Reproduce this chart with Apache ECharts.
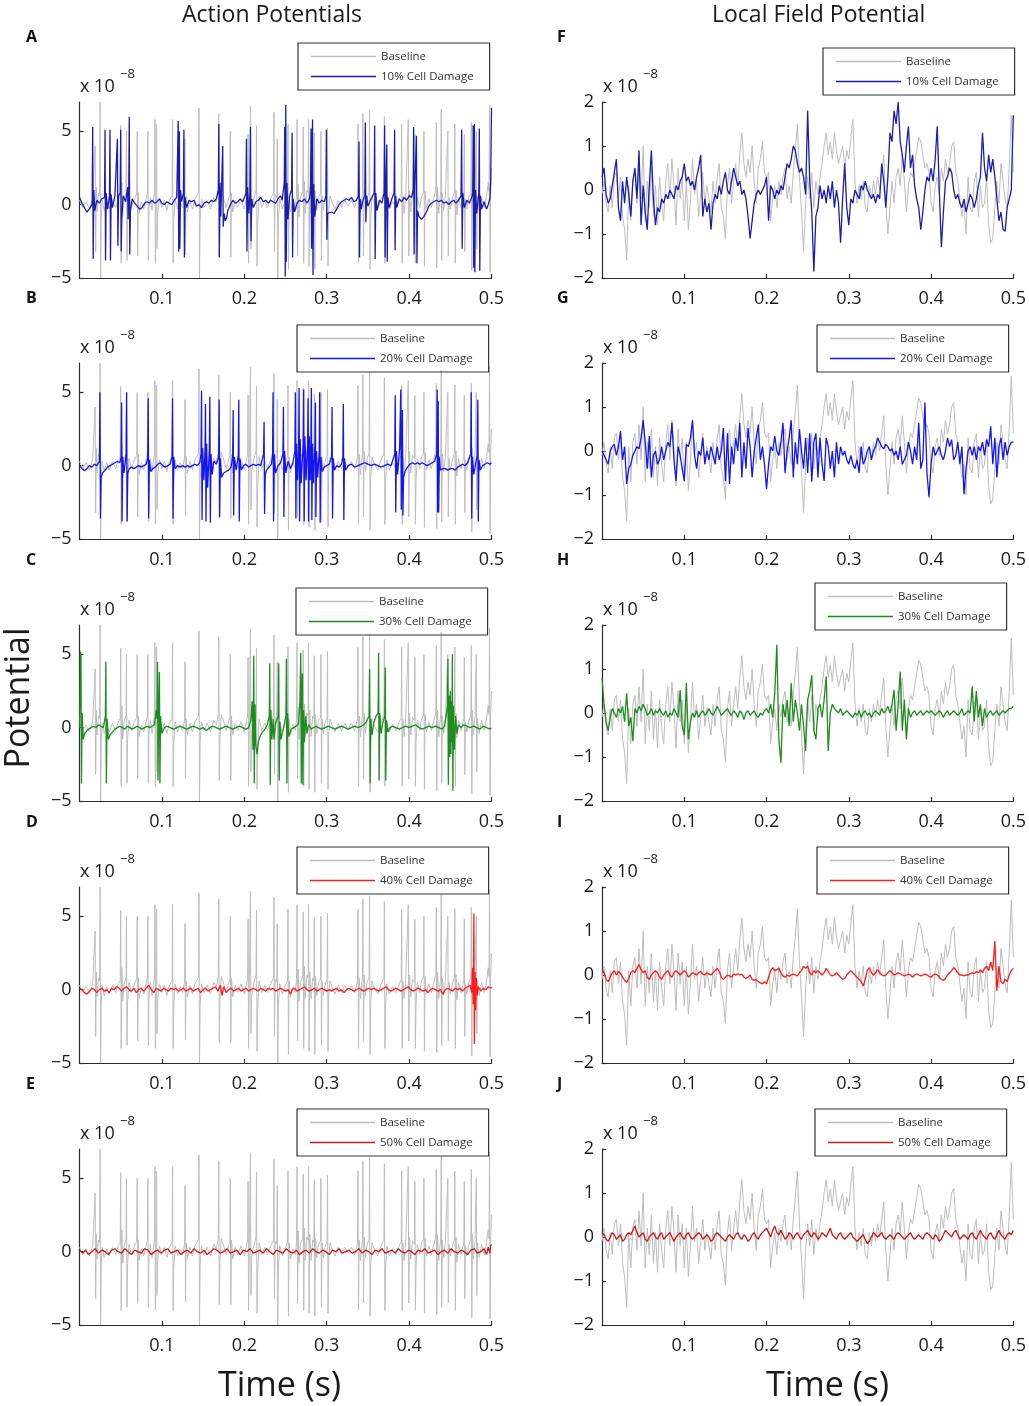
<!DOCTYPE html>
<html>
<head>
<meta charset="utf-8">
<script src="https://cdn.jsdelivr.net/npm/echarts@6/dist/echarts.min.js"></script>
<style>
  html, body { margin: 0; padding: 0; background: #fff; }
  #main { width: 1029px; height: 1406px; }
</style>
</head>
<body>
<div id="main"></div>
<script>
// ---- data (x 10^-8) ----
var timeTicks = [0.1, 0.2, 0.3, 0.4, 0.5];
var apTicks = [-5, 0, 5];
var lfpTicks = [-2, -1, 0, 1, 2];
var damageNames = ['10% Cell Damage', '20% Cell Damage', '30% Cell Damage', '40% Cell Damage', '50% Cell Damage'];

// action potentials: [time (ms), value]
var apBaseline = [
  [0,0.3],[4,-0.2],[8,0.2],[12,-0.3],[16,0.4],[18.4,0.5],[19,4.0],[19.6,-3.2],[20.4,1.2],[21.2,-0.5],[23,0.8],[24.4,0.6],[25,7.0],[25.6,-5.0],[26.4,-1.0],[27.4,0.3],[30,-0.4],[33,0.2],[36,-0.3],[40,0.3],[44,-0.2],[47,0.4],[49.4,0.6],[50,5.4],[50.6,-4.0],[51.4,1.5],[52.4,-0.8],[54,0.4],[56.4,0.8],[57,5.0],[57.6,-3.8],[58.4,-0.8],[60,0.5],[63,-0.2],[66,0.3],[69.4,0.7],[70,5.0],[70.6,-3.5],[71.4,0.8],[72.4,-0.6],[75,0.2],[78,-0.3],[82.4,0.8],[83,5.0],[83.6,-3.8],[84.4,-0.3],[86,0.5],[88,-0.4],[90.9,0.8],[91.5,5.8],[92.1,-4.0],[92.9,1.2],[93.5,5.5],[94.1,-3.0],[95,-0.6],[97,0.4],
  [100,-0.2],[103,0.3],[106,-0.4],[109,0.3],[112.4,0.6],[113,5.8],[113.6,-4.0],[114.4,-1.2],[116,0.4],[119,-0.3],[122,0.2],[125,-0.2],[127.4,0.5],[128,4.5],[128.6,-3.4],[129.4,0.6],[131,-0.5],[134,0.3],[137,-0.3],[140,0.4],[144.4,0.8],[145,6.6],[145.6,-5.0],[146.4,-1.0],[148,0.4],[151,-0.2],[155,0.3],[159,-0.3],[163,0.5],[166,0.2],[168.4,0.9],[169,6.2],[169.6,-3.6],[170.4,-0.8],[172,0.9],[175,0.4],[178,-0.2],[182.4,0.7],[183,5.0],[183.6,-3.6],[184.4,0.8],[186,-0.5],[189,0.3],[192,-0.2],[196,0.4],
  [200,-0.3],[204,0.8],[204.6,4.8],[205.2,-4.0],[206.2,0.9],[207.5,6.7],[208.1,-3.0],[209,-0.4],[211,0.3],[214.2,1.0],[214.8,5.4],[215.4,-4.2],[216.2,-1.5],[218,0.6],[221,-0.2],[225,0.3],[228,-0.2],[232,0.4],[235.4,0.8],[236,6.3],[236.6,-3.2],[237.4,0.7],[239.4,0.5],[240,4.5],[240.6,-5.0],[241.4,-1.0],[243,0.4],[246,-0.3],[250,0.3],[252.4,0.6],[253,5.5],[253.6,-4.4],[254.4,0.6],[256,-0.5],[259,0.2],[262,-0.2],[263.4,0.7],[264,5.8],[264.6,-3.5],[265.4,1.4],[266.4,-0.8],[268,0.5],[270.9,0.9],[271.5,5.3],[272.1,-4.0],[272.9,1.6],[274,-0.6],[276,1.0],[277.4,0.8],[278,5.8],[278.6,-4.2],[279.4,1.2],[281,-0.6],[283,0.8],[284.4,0.6],[285,4.9],[285.6,-4.4],[286.4,0.9],[288,-0.4],[290,0.5],[292.4,0.7],[293,5.0],[293.6,-3.8],[294.4,0.6],[296,-0.4],[298,0.3],
  [300.4,0.7],[301,5.2],[301.6,-4.2],[302.4,-0.5],[304,0.6],[307,0.1],[310,-0.3],[314,0.3],[318,-0.2],[322,0.3],[326,-0.1],[330,0.3],[334,-0.2],[337.4,0.6],[338,5.5],[338.6,-4.0],[339.4,0.8],[341,-0.6],[343.4,0.9],[344,6.2],[344.6,-3.5],[345.4,1.0],[347,-0.4],[349,0.5],[351.4,0.8],[352,6.4],[352.6,-4.4],[353.4,-1.0],[355,0.6],[358,0.1],[362,-0.3],[366,0.4],[369.4,0.8],[370,6.0],[370.6,-4.0],[371.4,-1.2],[373,0.4],[376,-0.3],[380,0.2],[384,-0.2],[388,0.4],[390.4,0.7],[391,5.5],[391.6,-4.0],[392.4,0.6],[394,-0.6],[396,0.8],[398.4,0.9],[399,5.8],[399.6,-3.5],
  [400.4,1.0],[402,-0.5],[404,0.7],[406.4,0.5],[407,4.8],[407.6,-4.0],[408.4,-1.0],[410,0.5],[413,-0.2],[415,0.6],[417.4,0.8],[418,5.0],[418.6,-4.2],[419.4,0.9],[421,-0.3],[424,0.4],[427,-0.2],[430,0.5],[432.4,1.0],[433,5.6],[433.6,-4.3],[434.4,1.2],[436,-0.6],[438.4,0.9],[439,6.5],[439.6,-3.8],[440.4,0.8],[442,-0.4],[444,0.6],[446.4,0.7],[447,5.0],[447.6,-3.5],[448.4,0.5],[450,-0.3],[453,0.5],[454.9,0.8],[455.5,5.5],[456.1,-4.0],[456.9,1.0],[458,-0.7],[460,0.5],[463,-0.2],[466.4,0.6],[467,4.8],[467.6,-3.2],[468.4,0.4],[470,-0.3],[473,0.6],[474.9,0.8],[475.5,5.6],[476.1,-4.5],[476.9,1.2],[478,-0.5],[480,0.8],[480.9,0.9],[481.5,5.0],[482.1,-3.0],[483,0.6],[485,-0.4],[488,0.5],[491,-0.2],[494,0.6],[496,1.5],[497,0.9],[497.6,6.8],[498.2,-4.6],[499,1.0],[500,2.5]
];

var apDmg10 = [
  [0,0.5],[3,0.1],[6,-0.2],[9,-0.5],[12,-0.3],[15,0.0],[15.4,0.3],[16,5.3],[16.6,-3.7],[17.4,1.0],[18.5,-0.4],[21,0.3],[24,0.1],[27,0.4],[30.4,0.5],[31,5.1],[31.6,-3.8],[32.4,0.8],[34,-0.3],[36.4,0.6],[37,5.1],[37.6,-3.8],[38.4,0.7],[40,-0.2],[43,0.6],[45.4,0.5],[46,4.5],[46.6,-2.8],[47.4,0.6],[49.4,0.8],[50,5.1],[50.6,-3.2],[51.4,-0.8],[53,0.6],[56,0.2],[58.4,1.2],[59,-1.0],[59.8,1.0],[60.4,6.0],[61,-3.4],[61.8,-0.4],[64,0.4],[67,0.1],[70,-0.1],[73,-0.3],[76,-0.2],[79,0.1],[82,0.2],[85,0.1],[88,0.3],[91,0.1],[94,0.2],[97,0.4],
  [100,0.1],[103,0.0],[106,0.2],[109,0.1],[112,0.0],[115,0.3],[118,0.5],[119.2,0.6],[119.8,5.7],[120.4,-3.2],[121.2,5.0],[121.8,-3.0],[122.6,1.0],[124,0.2],[126.1,0.8],[126.7,5.1],[127.3,-3.6],[128.1,0.5],[130,-0.2],[133,0.3],[136,0.2],[139,0.3],[142,-0.1],[145,0.0],[148,-0.2],[151,0.1],[154,0.2],[157,0.1],[160,0.3],[163,0.2],[166,0.4],[168.5,1.0],[169.1,5.5],[169.7,-3.6],[170.5,1.5],[171.5,-0.8],[173.8,4.0],[174.4,-1.5],[175.5,-0.6],[177,-1.1],[178.5,-0.9],[180,-0.4],[183,0.0],[186,0.3],[189,0.1],[192,0.2],[195,0.4],[198,0.2],
  [201,0.6],[202,0.8],[202.6,4.5],[203.2,-3.2],[204,1.2],[205.5,-0.6],[206.9,0.8],[207.5,5.3],[208.1,-2.5],[209,0.4],[211,-0.2],[214,0.2],[217,0.3],[220,0.5],[223,0.2],[226,0.3],[229,0.1],[232,0.3],[235,0.2],[238,0.1],[241,0.4],[244,0.6],[246,0.3],[248.5,1.5],[249.1,5.3],[249.7,-4.9],[250.3,6.8],[250.9,-3.9],[251.7,1.5],[253,-1.0],[255,0.6],[257.4,1.0],[258,4.9],[258.6,-3.6],[259.4,0.4],[261,-0.5],[264,0.1],[267,0.3],[270,0.2],[273,0.4],[276,0.1],[279,0.4],[280.4,1.0],[281,5.2],[281.6,-3.0],[282.8,5.8],[283.4,-4.8],[284.2,1.4],[285.5,-0.8],[288,0.4],[291,0.1],[294,0.3],[297,0.2],[299,0.6],[299.6,5.1],
  [300.2,-2.4],[301,-0.6],[303,-0.7],[306,-0.5],[309,-0.6],[312,-0.3],[315,0.0],[318,0.2],[321,0.3],[324,0.4],[327,0.3],[330,0.5],[333,0.2],[336,0.3],[338.6,0.6],[339.2,4.3],[339.8,-3.6],[340.6,0.4],[342,-0.3],[344,0.3],[346.3,0.6],[346.9,5.6],[347.5,-1.2],[348.5,0.6],[350,-0.1],[353,0.3],[355,0.5],[357.6,0.8],[358.2,5.4],[358.8,-3.7],[359.6,0.8],[361,-0.4],[364,0.3],[367,0.1],[369.7,0.8],[370.3,5.4],[370.9,-3.6],[371.7,0.7],[372.9,4.1],[373.5,-3.9],[374.3,0.5],[376,-0.2],[379,0.4],[381.8,0.8],[382.4,5.1],[383,-3.1],[383.8,0.6],[385,-0.2],[388,0.4],[391,0.2],[394,0.5],[397,0.3],
  [400,0.6],[403,0.5],[404.9,1.0],[405.5,5.3],[406.1,-3.4],[406.9,1.1],[408.9,4.7],[409.5,-4.0],[410.3,-0.4],[412,-0.8],[415,-1.0],[418,-0.8],[421,-0.5],[424,-0.1],[427,0.1],[430,0.2],[433,0.3],[436,0.2],[439,0.3],[442,0.1],[445,0.2],[448,0.0],[451,0.2],[454,0.3],[457,0.1],[460,0.3],[463,0.6],[463.8,5.1],[464.4,-3.0],[465.2,0.8],[467,-0.2],[470,0.3],[473,0.1],[476,0.5],[477.2,0.8],[477.8,5.4],[478.4,-4.3],[479.2,5.5],[479.8,-4.6],[480.6,1.0],[482,-0.6],[484.6,0.8],[485.2,5.2],[485.8,-4.5],[486.6,0.6],[488,-0.3],[491,0.2],[494,-0.3],[496,0.0],[498,0.4],[499,1.5],[500,6.6]
];

var apDmg20 = [
  [0,0.0],[3,-0.2],[6,-0.35],[9,-0.2],[12,0.0],[15,-0.1],[18,0.1],[21,0.0],[24.2,0.3],[24.8,5.0],[25.4,-3.6],[26.2,-0.8],[28,-0.5],[31,-0.3],[34,-0.1],[37,0.0],[40,0.1],[43,0.2],[46,0.3],[49,0.2],[50.5,0.6],[51.1,4.3],[51.7,-3.8],[52.5,0.6],[54,-0.5],[56.6,0.8],[57.2,5.0],[57.8,-3.8],[58.6,-0.5],[60.5,-0.2],[63,-0.1],[66,-0.2],[69,-0.1],[72,0.0],[75,-0.1],[78,0.0],[81,0.1],[82.8,0.5],[83.4,4.6],[84,-3.6],[84.8,0.4],[86.5,-0.4],[89,-0.2],[92,-0.1],[95,0.1],[98,0.2],
  [101,0.0],[104,-0.1],[107,0.0],[110,0.1],[112.3,0.6],[112.9,4.6],[113.5,-3.6],[114.3,0.6],[116,-0.2],[119,0.0],[122,-0.1],[125,0.0],[128,-0.1],[131,0.0],[134,-0.1],[137,0.0],[140,0.1],[143,0.0],[146,0.2],[147.5,0.8],[148.1,5.1],[148.7,-3.7],[149.5,1.2],[151,-1.0],[152.3,1.0],[152.9,4.2],[153.5,-3.8],[154.3,1.5],[155.5,-1.5],[157.6,1.2],[158.2,4.7],[158.8,-3.9],[159.6,0.8],[161,-0.6],[163,0.3],[166,0.1],[168.9,0.6],[169.5,4.5],[170.1,-3.5],[170.9,0.5],[172.5,-0.8],[175,-0.5],[178,-0.4],[181,-0.3],[184,-0.1],[185.9,0.6],[186.5,3.8],[187.1,-3.4],[187.9,0.6],[190,-0.3],[192.7,0.7],[193.3,4.5],[193.9,-3.8],[194.7,0.5],[196.5,-0.3],[199,0.0],
  [202,0.1],[205,-0.1],[208,0.0],[211,0.1],[214,0.0],[217,0.1],[220,0.0],[223.4,0.8],[224,3.0],[224.6,-3.3],[225.4,-0.6],[227,-0.3],[230,-0.1],[233,0.1],[234.3,0.8],[234.9,5.0],[235.5,-3.8],[236.3,0.8],[238,-0.5],[241,0.0],[244,0.2],[246.9,0.8],[247.5,4.0],[248.1,-3.5],[248.9,1.0],[250.5,-0.5],[253,0.3],[256,-0.2],[259,0.2],[261.4,1.0],[262,5.0],[262.6,-3.6],[263.4,1.5],[264.5,-1.0],[265.9,1.2],[266.5,5.3],[267.1,-3.8],[267.9,1.8],[269,-1.2],[271.5,1.5],[272.1,5.2],[272.7,-3.8],[273.5,2.0],[275,-1.0],[276.8,1.5],[277.4,4.6],[278,-3.8],[278.8,2.0],[280,-1.0],[280.8,1.6],[281.4,5.3],[282,-3.7],[282.8,1.5],[284,-1.2],[285.7,1.4],[286.3,4.3],[286.9,-3.5],[287.7,1.0],[289,-0.8],[290.9,0.9],[291.5,5.0],[292.1,-3.9],[292.9,0.6],[294.5,-0.4],[297,-0.1],
  [300,0.0],[303,0.1],[305.9,0.6],[306.5,4.0],[307.1,-3.6],[307.9,0.5],[309.5,-0.3],[312,0.0],[315,-0.1],[318,0.1],[319.6,0.6],[320.2,4.2],[320.8,-3.7],[321.6,0.5],[323,-0.3],[326,0.0],[330,0.1],[334,-0.1],[338,0.0],[342,0.1],[346,0.2],[350,0.1],[354,0.0],[358,0.1],[362,0.0],[366,-0.1],[370,0.0],[374,0.1],[378,0.0],[382.6,0.8],[383.2,4.8],[383.8,-3.2],[384.6,1.0],[386,-0.6],[388.5,1.2],[389.9,5.2],[390.5,-3.0],[391.3,1.0],[391.9,3.8],[392.5,-3.4],[393.3,-0.8],[395,-0.4],[398,-0.1],
  [401,0.1],[404,0.2],[407,0.1],[410,0.2],[413,0.1],[416,0.2],[419,0.1],[422,0.0],[425,0.1],[428,0.2],[431,0.3],[433.5,0.8],[434.1,5.2],[434.7,-3.2],[435.3,4.4],[435.9,-3.2],[436.7,0.6],[438,-0.3],[441,-0.2],[444,-0.2],[447,-0.3],[450,-0.2],[453,-0.2],[456,-0.3],[459,-0.1],[462,0.0],[465,0.1],[468,0.0],[471,0.2],[474.8,0.8],[475.4,5.0],[476,-3.6],[476.8,0.6],[478.5,-0.6],[481,0.2],[482.8,0.7],[483.4,4.5],[484,-3.8],[484.8,0.4],[486.5,-0.3],[489,0.0],[492,0.1],[495,0.2],[498,0.1],[500,0.2]
];

var apDmg30 = [
  [0,0.0],[0.6,2.0],[1.2,5.2],[1.8,4.8],[2.4,-3.8],[3.2,1.0],[4.5,-0.8],[6,-0.4],[8,-0.3],[11,-0.1],[14,0.0],[17,0.1],[20,0.0],[23,0.2],[26,0.1],[29,0.0],[31.4,0.8],[32,4.5],[32.6,-3.8],[33.4,0.6],[35,-0.8],[37,-0.5],[40,-0.3],[43,-0.1],[46,0.0],[49,0.1],[52,0.0],[55,-0.1],[58,0.1],[61,0.0],[64,-0.1],[67,0.0],[70,0.1],[73,0.0],[76,-0.1],[79,0.0],[82,0.1],[85,0.0],[88,0.1],[91,0.2],[93,1.2],[94.1,0.6],[94.7,4.5],[95.3,-3.6],[96,1.0],[97,3.8],[97.6,-3.8],[98.4,0.8],
  [100,-0.4],[103,0.0],[106,0.1],[110,0.0],[114,-0.1],[118,0.0],[122,0.1],[126,0.0],[130,-0.1],[134,0.0],[138,0.1],[142,0.0],[146,-0.1],[150,0.0],[154,-0.2],[158,0.0],[162,0.1],[166,0.0],[170,-0.1],[174,0.0],[178,0.1],[182,0.0],[186,-0.1],[190,0.0],[194,0.1],[198,0.0],
  [202,-0.1],[205,0.0],[208,0.5],[209.5,1.8],[210.5,-1.5],[211.5,4.9],[212.1,-3.8],[213,1.6],[214,-1.2],[215.5,-1.8],[217,-1.0],[219,-0.6],[222,-0.3],[225,-0.1],[228,0.2],[230.3,0.8],[230.9,4.4],[231.5,-3.9],[232.3,1.2],[233.5,-0.8],[235,0.6],[236,-0.8],[238,0.3],[241.2,0.8],[241.8,4.4],[242.4,-3.6],[243.2,0.4],[244.5,-0.8],[246,-0.4],[248,0.1],[250.5,0.8],[251.1,4.7],[251.7,-3.8],[252.5,1.0],[254,-0.6],[257,-0.1],[260,0.0],[263,0.1],[266,0.3],[267.5,1.8],[268.5,5.1],[269.1,-3.8],[269.9,2.5],[270.5,3.7],[271.1,-3.9],[272,1.2],[273,-1.0],[274.5,0.8],[276,-0.4],[278,0.2],[281,-0.1],[284,0.0],[287,0.1],[290,0.0],[294,-0.1],[298,0.0],
  [302,0.1],[306,0.0],[310,-0.1],[314,0.0],[318,0.1],[322,0.0],[326,-0.1],[330,0.0],[334,0.1],[338,0.0],[342,0.1],[345,0.2],[348,0.4],[351.5,0.8],[352.1,4.0],[352.7,-3.8],[353.5,0.6],[355,-0.5],[357,0.3],[360,0.8],[362.4,1.0],[363,5.1],[363.6,-3.6],[364.4,1.0],[366,-0.4],[368,0.3],[370.5,0.8],[371.1,4.1],[371.7,-3.6],[372.5,0.5],[374,-0.3],[377,0.0],[380,0.1],[384,0.0],[388,-0.1],[392,0.0],[396,0.1],
  [400,0.0],[404,0.1],[408,0.2],[412,0.0],[416,-0.1],[420,0.0],[424,0.1],[428,0.0],[432,0.1],[436,0.0],[440,-0.1],[443,0.1],[445,0.8],[446.5,1.5],[447.1,4.7],[447.7,-3.9],[448.5,2.2],[449.3,-2.0],[450,2.5],[450.7,-1.8],[451.4,1.8],[452,-1.0],[452.5,5.0],[453.1,-4.3],[453.9,1.5],[455,-1.5],[456.5,0.8],[458,-0.4],[460,0.2],[463,0.0],[466,0.2],[470,0.1],[474,0.0],[478,0.1],[482,0.0],[486,-0.1],[490,0.1],[494,0.0],[498,-0.1],[500,0.0]
];

var apDmg40 = [
  [0,0.1],[3,0.0],[6,-0.2],[9,-0.3],[12,-0.1],[15,0.1],[18,0.0],[21,-0.2],[24,0.0],[27,0.1],[30,-0.1],[33,0.0],[36,-0.2],[39,0.1],[42,0.0],[45,0.2],[48,0.1],[51,-0.1],[54,0.1],[57,0.2],[60,0.0],[63,-0.1],[66,0.1],[69,-0.2],[72,0.0],[75,0.1],[78,-0.1],[81,0.1],[84,0.3],[87,0.0],[90,-0.2],[93,0.1],[96,0.0],[99,-0.1],
  [102,0.1],[105,0.0],[108,-0.1],[111,0.1],[114,0.0],[117,0.1],[120,-0.1],[123,0.0],[126,0.1],[129,-0.1],[132,0.0],[135,0.1],[138,-0.1],[141,0.0],[144,0.1],[147,-0.2],[150,0.0],[153,0.1],[156,-0.1],[159,0.0],[162,0.1],[165,0.2],[168,-0.1],[171,0.3],[173,-0.4],[175,0.2],[178,-0.2],[181,0.0],[184,0.1],[187,-0.1],[190,0.0],[193,0.1],[196,-0.1],[199,0.0],
  [202,0.1],[205,-0.1],[208,0.0],[211,0.1],[214,0.0],[217,-0.1],[220,0.1],[223,0.0],[226,-0.1],[229,0.1],[232,0.0],[235,0.1],[238,-0.1],[241,0.0],[244,0.1],[247,0.0],[250,-0.1],[253,0.0],[256,-0.3],[258,0.0],[261,0.1],[264,-0.1],[267,0.0],[270,0.1],[273,0.2],[276,0.0],[279,-0.1],[282,0.0],[285,0.1],[288,-0.1],[291,0.0],[294,0.1],[297,0.0],
  [300,-0.1],[303,0.0],[306,-0.1],[309,0.0],[312,0.1],[315,-0.1],[318,0.0],[321,-0.2],[324,0.0],[327,0.1],[330,0.0],[333,-0.1],[336,0.0],[339,0.1],[342,0.0],[345,-0.1],[348,0.0],[351,0.1],[354,0.0],[357,0.1],[360,0.0],[363,-0.1],[366,0.0],[369,0.1],[372,0.2],[375,0.0],[378,-0.1],[381,0.0],[384,0.1],[387,0.0],[390,-0.1],[393,0.0],[396,0.1],[399,0.2],
  [402,0.0],[405,-0.1],[408,0.0],[411,0.1],[414,0.0],[417,-0.1],[420,0.0],[423,-0.2],[426,0.0],[429,0.1],[432,0.0],[435,-0.1],[438,0.0],[441,-0.3],[444,0.0],[447,0.1],[450,0.0],[453,-0.1],[456,0.1],[459,0.0],[462,0.1],[465,-0.1],[468,0.1],[471,0.2],[474,0.3],[476,-0.2],[477,1.5],[477.8,-1.0],[478.6,5.2],[479.2,-3.7],[480,1.2],[480.8,-1.4],[481.6,0.8],[482.5,-0.4],[484,0.2],[487,-0.1],[490,0.1],[493,0.0],[496,0.2],[499,0.1],[500,0.2]
];

var apDmg50 = [
  [0,0.1],[4,-0.1],[7,0.1],[11,-0.2],[15,0.0],[19,0.2],[23,-0.1],[27,0.1],[31,0.0],[35,-0.2],[39,0.1],[43,0.2],[47,0.0],[51,-0.1],[55,0.2],[59,0.0],[63,-0.2],[67,0.1],[71,0.0],[75,-0.1],[79,0.2],[83,0.1],[87,-0.2],[91,0.0],[95,0.1],[99,-0.1],
  [103,0.1],[107,0.2],[111,-0.1],[115,0.0],[119,0.1],[123,-0.2],[127,0.0],[131,0.1],[135,-0.1],[139,0.2],[143,0.0],[147,-0.1],[151,0.1],[155,-0.2],[159,0.0],[163,0.2],[167,0.1],[171,-0.1],[175,0.0],[179,0.2],[183,-0.1],[187,0.0],[191,0.1],[195,-0.2],[199,0.1],
  [203,0.0],[207,0.2],[211,-0.1],[215,0.0],[219,0.1],[223,-0.1],[227,0.2],[231,0.0],[235,-0.2],[239,0.1],[243,0.0],[247,-0.1],[251,0.2],[255,0.0],[259,-0.1],[263,0.1],[267,-0.2],[271,0.0],[275,0.1],[279,-0.1],[283,0.2],[287,0.0],[291,-0.1],[295,0.1],[299,0.0],
  [303,-0.2],[307,0.1],[311,0.0],[315,0.2],[319,-0.1],[323,0.0],[327,0.1],[331,-0.1],[335,0.0],[339,0.2],[343,-0.1],[347,0.1],[351,0.0],[355,-0.2],[359,0.1],[363,0.0],[367,0.2],[371,-0.1],[375,0.0],[379,0.1],[383,-0.1],[387,0.2],[391,0.0],[395,-0.1],[399,0.1],
  [403,0.0],[407,-0.2],[411,0.1],[415,0.0],[419,0.2],[423,-0.1],[427,0.0],[431,0.1],[435,-0.2],[439,0.0],[443,0.1],[447,-0.1],[451,0.2],[455,0.0],[459,-0.1],[463,0.1],[467,0.0],[471,-0.2],[475,0.1],[479,0.2],[483,-0.1],[487,0.0],[491,0.2],[494,-0.2],[496,0.3],[498,-0.1],[499,0.4],[500,0.5]
];

// local field potentials: one value every lfpStep seconds from 0 to 0.5
var lfpStep = 0.0025;
var lfpBaseline = [
  -0.1, 0.2, -0.3, -0.5, 0.1, -0.4, 0.3, 0.4, -0.2, 0.3, -0.6, -0.9, -1.6, 0.1, -0.7, 0.2, 0.4, -0.3, 0.6, -0.2,
  1.0, -0.7, 0.2, -0.4, 0.5, -0.6, 0.1, -0.8, 0.3, -0.3, -0.7, 0.2, 0.6, -0.2, 0.7, 0.1, -0.8, 0.5, -0.2, 0.3,
  -0.7, 0.2, -0.9, -0.2, 0.7, -0.1, 0.2, -0.6, -0.1, 0.4, -0.3, 0.1, -0.2, -0.5, 0.2, -0.3, 0.3, 0.6, -0.4, -0.6,
  -1.1, 0.1, 0.5, -0.3, 0.2, 0.6, 0.1, 0.8, 1.3, 0.6, 0.3, 0.7, 0.4, 1.0, 0.2, -0.3, 0.5, 0.7, 1.1, 0.4,
  0.3, 0.4, -0.7, -0.2, 0.1, -0.4, 0.2, -0.1, 0.3, 0.5, -0.2, 0.1, -0.3, 0.4, 0.9, 1.5, 0.3, -0.5, -1.4, -0.3,
  0.3, -0.2, 0.4, -0.4, 0.2, -0.1, 0.3, 0.6, 1.0, 1.3, 0.8, 1.1, 0.7, 1.3, 0.9, 0.6, 0.8, 1.0, 0.5, 0.9,
  0.7, 1.2, 1.6, 0.2, -0.3, 0.1, -0.2, 0.2, -0.4, -0.5, 0.1, -0.2, 0.2, -0.1, 0.3, 0.0, 0.4, 0.8, -0.3, -1.0,
  -0.4, 0.2, -0.3, 0.3, 0.5, 0.1, 0.8, 0.2, -0.5, 0.1, 0.4, 0.3, 0.6, 0.9, 1.2, 1.1, 0.8, 0.5, 0.6, 0.4,
  -0.3, -0.5, 0.1, 0.3, -0.1, 0.5, 0.2, 0.7, 0.4, 0.6, 1.0, 1.1, 0.4, 0.2, -0.2, -0.6, -0.3, -1.0, 0.3, -0.4,
  -0.5, 0.2, 0.4, -0.6, 0.1, -0.4, -0.3, 0.3, -0.8, -1.2, -1.1, -0.4, 0.2, -0.3, 0.6, 0.2, -0.2, -0.4, 0.5, 1.7,
  0.4
];
var lfpDmg10 = [
  0.3, 0.5, -0.1, -0.3, -0.2, 0.1, 0.4, 0.7, -0.4, -0.7, 0.2, -0.3, 0.3, -0.1, -0.6, 0.2, 0.5, -0.2, 0.9, -0.8,
  0.1, -0.5, -0.9, 0.1, 0.9, -0.2, -0.8, -0.4, -0.5, -0.2, -0.3, -0.1, -0.2, 0.0, -0.1, -0.2, 0.1, 0.0, 0.2, 0.3,
  0.6, 0.2, 0.3, 0.1, 0.2, 0.0, 0.3, 0.5, 0.8, -0.6, -0.2, -0.5, -0.3, -0.9, -0.3, -0.1, -0.2, 0.1, -0.1, 0.2,
  0.4, 0.0, -0.1, 0.2, 0.5, 0.3, 0.1, 0.2, -0.1, 0.0, -0.2, -0.6, -1.1, -0.7, -0.3, -0.1, 0.0, -0.1, 0.0, 0.1,
  0.3, -0.7, 0.1, 0.0, -0.2, 0.0, -0.1, 0.1, 0.0, 0.3, 0.6, 0.5, 0.7, 1.0, 0.9, 0.6, 0.4, 0.5, 0.3, -0.1,
  1.8, 0.2, -0.5, -1.85, -0.6, -0.4, 0.1, -0.2, 0.0, -0.3, 0.1, -0.2, 0.2, -0.4, 0.0, -0.3, -1.2, -0.2, 0.6, -0.4,
  -0.8, -0.2, -0.3, 0.0, -0.1, -0.2, 0.1, 0.0, 0.2, 0.0, -0.1, -0.2, -0.1, -0.3, -0.1, -0.2, 0.6, 0.2, -0.4, 0.3,
  1.3, 1.1, 1.8, 1.5, 2.0, 1.1, 0.8, 0.4, 1.0, 1.45, 0.5, 0.8, 0.1, -0.2, -0.4, -0.9, -0.5, 0.0, 0.3, 0.2,
  0.5, 0.2, 0.7, 1.45, 0.0, -1.3, -0.5, 0.2, 0.3, 0.5, 0.4, 0.0, -0.2, -0.1, -0.3, -0.4, -0.2, -0.5, -0.3, -0.1,
  -0.2, -0.4, -0.2, 0.1, 0.3, 1.3, 0.5, 0.2, 0.8, 0.4, 0.7, 0.3, -0.2, -0.7, -0.5, -0.9, -0.94, -0.4, -0.2, 0.0,
  1.7
];
var lfpDmg20 = [
  0.0, -0.1, -0.2, -0.3, 0.0, 0.1, 0.15, -0.1, 0.1, 0.45, -0.2, 0.1, -0.75, -0.4, -0.3, -0.1, 0.0, 0.1, 0.05, 0.3,
  0.7, 0.2, -0.4, 0.34, -0.6, -0.1, 0.0, -0.3, -0.2, 0.1, -0.2, 0.0, 0.2, 0.1, 0.64, -0.2, -0.68, 0.1, -0.1, -0.4,
  -0.68, 0.15, 0.1, 0.3, 0.7, -0.1, -0.4, 0.0, -0.1, 0.3, -0.3, 0.0, -0.2, 0.1, -0.1, -0.3, 0.1, -0.2, 0.0, 0.52,
  -0.68, 0.4, -0.75, 0.1, -0.3, 0.3, 0.0, 0.64, -0.6, 0.2, -0.4, 0.52, 0.1, -0.6, 0.0, 0.3, 0.6, -0.2, 0.1, -0.3,
  -0.86, -0.3, 0.1, 0.0, 0.34, 0.0, -0.1, 0.2, 0.64, -0.5, 0.0, 0.3, 0.7, -0.6, 0.2, -0.3, 0.5, 0.0, -0.4, 0.3,
  -0.5, 0.4, -0.7, 0.2, 0.4, -0.6, 0.3, -0.3, -0.68, 0.3, 0.1, -0.4, 0.0, -0.6, 0.2, -0.3, 0.1, -0.1, 0.0, -0.2,
  -0.3, -0.1, -0.3, -0.4, -0.2, -0.5, 0.1, -0.3, -0.2, 0.0, 0.1, -0.2, 0.0, 0.1, 0.3, 0.2, 0.1, 0.05, 0.15, 0.1,
  0.0, 0.05, -0.1, 0.0, -0.2, 0.1, -0.3, -0.2, -0.1, 0.2, 0.0, -0.3, 0.1, -0.2, 0.64, -0.4, -0.2, 1.1, -0.5, -1.05,
  -0.3, 0.1, -0.1, 0.0, 0.1, -0.1, -0.2, 0.0, 0.3, 0.1, 0.26, -0.2, -0.1, 0.2, -0.3, 0.1, -0.98, -0.4, 0.0, 0.1,
  -0.1, 0.1, -0.2, 0.1, 0.0, 0.2, -0.1, 0.26, 0.1, 0.56, -0.3, 0.3, -0.6, 0.1, 0.3, -0.2, 0.2, -0.1, 0.1, 0.2,
  0.2
];
var lfpDmg30 = [
  0.8, 0.2, -0.2, -0.4, -0.1, 0.1, 0.0, -0.1, 0.1, 0.0, 0.15, -0.2, 0.45, -0.3, -0.1, -0.64, 0.1, 0.0, 0.15, 0.05,
  0.2, 0.1, -0.05, 0.0, 0.1, -0.05, 0.05, 0.0, 0.1, 0.0, -0.05, 0.05, -0.1, 0.0, -0.05, 0.1, 0.0, -0.1, 0.52, -0.3,
  -0.5, 0.68, -0.6, -0.2, 0.0, -0.1, 0.05, -0.1, 0.0, 0.05, -0.05, 0.0, 0.1, 0.0, -0.05, 0.05, 0.15, 0.05, -0.05, 0.0,
  0.05, 0.1, 0.0, -0.05, 0.05, 0.0, -0.1, 0.05, 0.0, -0.15, 0.0, 0.05, -0.05, 0.0, 0.05, -0.05, -0.1, 0.0, -0.05, 0.05,
  0.1, 0.0, 0.2, -0.1, 0.45, 1.55, -0.6, -1.13, 0.2, -0.1, 0.3, -0.3, 0.68, -0.2, 0.3, 0.0, -0.4, 0.2, -0.3, -0.86,
  0.3, 0.5, 0.86, -0.4, -0.6, 0.1, 0.2, -0.1, 0.3, 0.83, -0.86, 0.0, 0.2, 0.1, 0.05, 0.0, 0.1, -0.05, 0.0, 0.05,
  0.0, -0.05, -0.1, 0.0, -0.05, 0.05, -0.1, 0.0, 0.05, -0.05, 0.0, -0.1, 0.0, 0.05, 0.0, -0.05, 0.1, 0.0, 0.05, 0.15,
  0.0, 0.2, 0.52, -0.4, 0.2, 0.94, -0.4, 0.3, -0.6, 0.1, -0.1, 0.0, 0.05, -0.05, 0.0, 0.05, -0.05, 0.0, 0.05, 0.0,
  0.05, 0.0, -0.05, 0.0, 0.05, 0.0, -0.1, 0.0, 0.05, -0.05, 0.0, 0.05, 0.0, -0.05, 0.0, 0.1, -0.05, 0.0, 0.05, 0.0,
  0.6, -0.2, 0.5, -0.1, 0.2, -0.3, 0.1, -0.1, 0.0, 0.05, -0.05, 0.0, 0.05, -0.05, 0.0, 0.05, 0.0, 0.05, 0.1, 0.1,
  0.15
];
var lfpDmg40 = [
  0.13, 0.05, -0.1, -0.15, -0.05, 0.05, 0.1, 0.0, 0.08, 0.03, -0.05, -0.12, -0.17, -0.08, 0.05, 0.1, 0.05, 0.15, 0.24, 0.12,
  0.05, 0.1, -0.05, -0.1, 0.0, 0.05, 0.1, 0.05, -0.05, -0.1, 0.0, 0.05, 0.1, 0.0, -0.05, 0.05, 0.1, 0.05, 0.0, 0.05,
  0.1, 0.05, -0.05, 0.0, 0.05, 0.03, 0.0, 0.05, 0.08, 0.02, 0.0, 0.05, 0.02, 0.0, 0.05, 0.1, 0.15, 0.08, -0.05, -0.1,
  -0.05, 0.0, -0.02, -0.05, 0.02, 0.0, 0.03, 0.0, 0.02, -0.05, -0.08, -0.05, 0.0, -0.1, -0.12, -0.1, -0.15, -0.18, -0.2, -0.15,
  -0.2, -0.05, 0.1, 0.17, 0.1, 0.12, 0.15, 0.05, -0.02, -0.05, 0.0, -0.03, 0.0, 0.02, 0.0, -0.02, 0.05, 0.1, 0.2, 0.15,
  0.2, 0.05, 0.0, 0.1, 0.05, 0.1, 0.05, 0.0, 0.05, 0.15, 0.08, 0.0, -0.02, 0.0, 0.05, 0.0, -0.05, -0.1, -0.08, 0.0,
  0.05, 0.1, 0.05, 0.0, -0.05, -0.1, -0.15, -0.25, -0.1, 0.1, 0.17, 0.05, 0.0, 0.05, 0.12, 0.05, 0.0, -0.02, 0.0, 0.05,
  0.1, 0.05, 0.0, 0.02, 0.05, 0.03, 0.0, -0.02, 0.0, 0.02, 0.0, -0.05, 0.0, 0.03, 0.0, -0.02, 0.0, 0.02, 0.0, -0.03,
  -0.05, 0.0, 0.02, 0.0, -0.05, -0.1, -0.12, -0.08, 0.0, 0.05, 0.1, 0.17, 0.12, 0.05, 0.0, 0.0, -0.02, 0.0, 0.0, 0.03,
  0.05, 0.03, 0.08, 0.05, 0.12, 0.05, 0.15, 0.2, 0.1, 0.3, 0.1, 0.77, -0.36, 0.2, -0.15, -0.2, -0.1, -0.15, 0.0, 0.1,
  0.15
];
var lfpDmg50 = [
  0.1, 0.05, -0.05, -0.1, 0.0, 0.1, 0.05, -0.05, 0.0, 0.05, -0.1, -0.05, 0.05, 0.1, 0.05, 0.15, 0.25, 0.1, 0.0, 0.05,
  0.1, -0.05, -0.1, 0.0, 0.05, 0.1, 0.0, -0.05, 0.05, 0.1, -0.05, 0.0, 0.05, 0.1, 0.0, -0.1, 0.0, 0.05, 0.1, 0.0,
  -0.05, 0.05, 0.1, 0.0, -0.05, 0.0, 0.05, 0.1, 0.05, -0.05, 0.0, 0.05, 0.0, -0.1, -0.05, 0.05, 0.1, 0.05, 0.0, -0.05,
  -0.1, 0.0, 0.05, 0.0, -0.05, 0.05, 0.1, 0.0, -0.05, 0.05, 0.0, -0.1, -0.05, 0.05, 0.1, 0.0, -0.05, 0.05, 0.1, 0.15,
  0.2, 0.1, 0.0, 0.15, 0.25, 0.1, 0.05, 0.15, 0.05, -0.05, 0.0, 0.1, 0.05, -0.05, 0.05, 0.1, 0.0, -0.05, 0.05, 0.1,
  0.15, 0.05, 0.0, 0.1, 0.05, -0.05, 0.0, 0.1, 0.05, 0.0, 0.1, 0.2, 0.05, 0.0, -0.05, 0.05, 0.1, 0.0, -0.05, 0.0,
  0.05, 0.1, 0.0, -0.05, -0.1, -0.05, 0.0, 0.05, -0.05, -0.15, -0.1, 0.0, 0.1, 0.05, 0.0, 0.05, 0.1, 0.0, -0.05, 0.0,
  0.05, 0.0, -0.05, 0.05, 0.1, 0.05, 0.0, -0.05, 0.0, 0.05, 0.1, 0.0, -0.05, 0.0, 0.05, 0.0, -0.05, 0.05, 0.1, 0.05,
  0.0, -0.05, 0.05, 0.0, -0.1, -0.05, 0.05, 0.15, 0.1, 0.05, 0.0, 0.1, 0.15, 0.05, -0.05, 0.0, 0.05, 0.0, -0.05, 0.05,
  0.1, 0.0, -0.05, 0.05, 0.15, 0.05, 0.0, -0.05, 0.05, 0.1, 0.0, -0.05, 0.05, 0.15, 0.05, 0.0, -0.05, 0.05, 0.1, 0.05,
  0.15
];

(function () {
    "use strict";

    function msPairs(list) {
        return list.map(function (p) { return [p[0] / 1000, p[1]]; });
    }
    function stepPairs(vals) {
        return vals.map(function (v, i) { return [i * lfpStep, v]; });
    }
    function minus(v) {
        return String(v).replace('-', '\u2212');
    }

    var FONT = 'Open Sans';
    var AXIS_COLOR = '#2b2b2b';
    var GRAY = '#bdbdbd';
    var colors = ['#1c1cae', '#1515ef', '#1f8c1f', '#ff1c1c', '#c41c1c'];
    var apDamage = [apDmg10, apDmg20, apDmg30, apDmg40, apDmg50];
    var lfpDamage = [lfpDmg10, lfpDmg20, lfpDmg30, lfpDmg40, lfpDmg50];
    var rowTops = [102, 363, 625, 887, 1149];
    var leftLegend = [[298, 43], [297, 325], [296, 588], [297, 847], [297, 1109]];
    var rightLegend = [[823, 48], [817, 325], [815, 583], [817, 847], [815, 1109]];
    var letters = ['A', 'B', 'C', 'D', 'E', 'F', 'G', 'H', 'I', 'J'];

    var grids = [], xAxes = [], yAxes = [], series = [], legends = [], graphics = [];

    for (var c = 0; c < 2; c++) {
        for (var r = 0; r < 5; r++) {
            var idx = c * 5 + r;
            var isAp = c === 0;
            var gLeft = isAp ? 79.5 : 602;
            var gTop = rowTops[r];
            grids.push({left: gLeft, top: gTop, width: isAp ? 412 : 413, height: 176});

            xAxes.push({
                gridIndex: idx, type: 'value', min: 0, max: 0.5,
                axisLine: {show: true, onZero: false, lineStyle: {color: AXIS_COLOR, width: 1.2}},
                axisTick: {show: true, inside: true, length: 4, customValues: timeTicks,
                    lineStyle: {color: AXIS_COLOR, width: 1.2}},
                axisLabel: {customValues: timeTicks, fontSize: 18, fontFamily: FONT, color: '#1a1a1a', margin: 12},
                splitLine: {show: false}
            });

            var ticks = isAp ? apTicks : lfpTicks;
            yAxes.push({
                gridIndex: idx, type: 'value',
                min: isAp ? -5 : -2, max: isAp ? 7 : 2,
                axisLine: {show: true, onZero: false, lineStyle: {color: AXIS_COLOR, width: 1.2}},
                axisTick: {show: true, inside: true, length: 4, customValues: ticks,
                    lineStyle: {color: AXIS_COLOR, width: 1.2}},
                axisLabel: {customValues: ticks, fontSize: 18, fontFamily: FONT, color: '#1a1a1a', margin: 8,
                    formatter: minus},
                splitLine: {show: false}
            });

            series.push({
                type: 'line', name: 'Baseline', xAxisIndex: idx, yAxisIndex: idx,
                data: isAp ? msPairs(apBaseline) : stepPairs(lfpBaseline),
                symbol: 'none', animation: false, z: 2,
                lineStyle: {color: GRAY, width: 1}, itemStyle: {color: GRAY}
            });
            series.push({
                type: 'line', name: damageNames[r], xAxisIndex: idx, yAxisIndex: idx,
                data: isAp ? msPairs(apDamage[r]) : stepPairs(lfpDamage[r]),
                symbol: 'none', animation: false, z: 3,
                lineStyle: {color: colors[r], width: 1.3}, itemStyle: {color: colors[r]}
            });

            var lg = isAp ? leftLegend[r] : rightLegend[r];
            legends.push({
                data: ['Baseline', damageNames[r]],
                left: lg[0], top: lg[1], orient: 'vertical',
                icon: 'rect', itemWidth: 65, itemHeight: 1.4, itemGap: 7,
                padding: [7, 16, 7, 13],
                borderColor: '#333', borderWidth: 1.2,
                selectedMode: false,
                textStyle: {fontSize: 11.5, fontFamily: FONT, color: '#333', lineHeight: 13}
            });

            // panel letter
            graphics.push({type: 'text', left: isAp ? 26 : 557, top: gTop - 73,
                style: {text: letters[idx], font: 'bold 16px ' + FONT, fill: '#111'}});
            // x 10^-8 multiplier
            graphics.push({type: 'text', left: isAp ? 80 : 603, top: gTop - 24,
                style: {text: 'x 10', font: '18px ' + FONT, fill: '#1a1a1a'}});
            graphics.push({type: 'text', left: isAp ? 120 : 643, top: gTop - 34,
                style: {text: '\u22128', font: '13px ' + FONT, fill: '#1a1a1a'}});
        }
    }

    // column titles, axis titles
    graphics.push({type: 'text', left: 182, top: 4,
        style: {text: 'Action Potentials', font: '23px ' + FONT, fill: '#1a1a1a'}});
    graphics.push({type: 'text', left: 712, top: 4,
        style: {text: 'Local Field Potential', font: '23px ' + FONT, fill: '#1a1a1a'}});
    graphics.push({type: 'text', left: 218, top: 1369,
        style: {text: 'Time (s)', font: '34px ' + FONT, fill: '#1a1a1a'}});
    graphics.push({type: 'text', left: 766, top: 1369,
        style: {text: 'Time (s)', font: '34px ' + FONT, fill: '#1a1a1a'}});
    graphics.push({type: 'text', x: 19, y: 698, rotation: Math.PI / 2,
        style: {text: 'Potential', font: '34px ' + FONT, fill: '#1a1a1a',
            align: 'center', verticalAlign: 'middle'}});

    var chart = echarts.init(document.getElementById('main'));
    chart.setOption({
        backgroundColor: '#fff',
        animation: false,
        grid: grids,
        xAxis: xAxes,
        yAxis: yAxes,
        legend: legends,
        series: series,
        graphic: graphics
    });
})();
</script>
</body>
</html>
